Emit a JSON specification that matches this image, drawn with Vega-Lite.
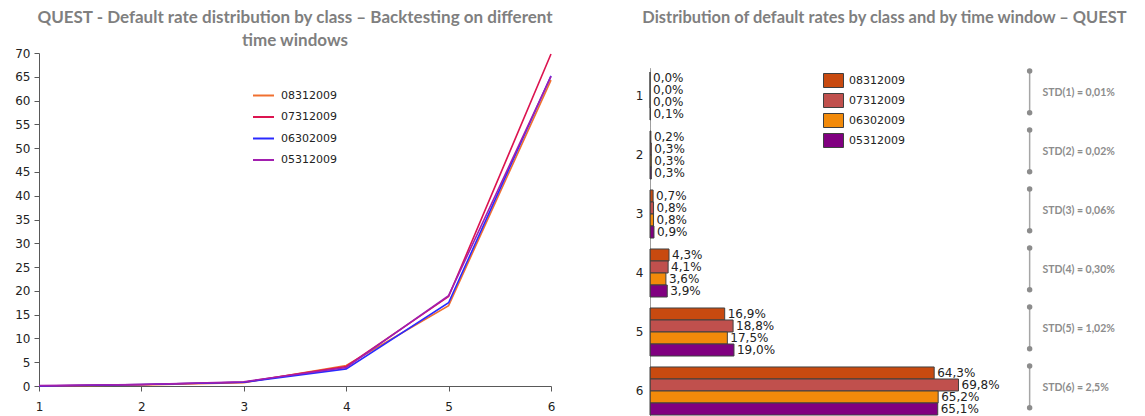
{
  "$schema": "https://vega.github.io/schema/vega-lite/v6.json",
  "background": "white",
  "padding": {"left": 14, "top": 9, "right": 0, "bottom": 0},
  "spacing": 80,
  "config": {
    "view": {"stroke": null},
    "font": "DejaVu Sans",
    "title": {"font": "Lato", "fontWeight": "bold", "fontSize": 17, "color": "#7F7F7F"},
    "axis": {
      "labelFont": "DejaVu Sans",
      "labelFontSize": 12,
      "labelColor": "#222222",
      "domainColor": "#595959",
      "tickColor": "#595959",
      "grid": false,
      "title": null
    },
    "legend": {"labelFont": "DejaVu Sans", "labelFontSize": 11, "labelColor": "#222222"}
  },
  "resolve": {"scale": {"color": "independent", "fill": "independent"}},
  "datasets": {
    "rates": [
      {"cls": 1, "series": "08312009", "rate": 0.0},
      {"cls": 2, "series": "08312009", "rate": 0.2},
      {"cls": 3, "series": "08312009", "rate": 0.7},
      {"cls": 4, "series": "08312009", "rate": 4.3},
      {"cls": 5, "series": "08312009", "rate": 16.9},
      {"cls": 6, "series": "08312009", "rate": 64.3},
      {"cls": 1, "series": "07312009", "rate": 0.0},
      {"cls": 2, "series": "07312009", "rate": 0.3},
      {"cls": 3, "series": "07312009", "rate": 0.8},
      {"cls": 4, "series": "07312009", "rate": 4.1},
      {"cls": 5, "series": "07312009", "rate": 18.8},
      {"cls": 6, "series": "07312009", "rate": 69.8},
      {"cls": 1, "series": "06302009", "rate": 0.0},
      {"cls": 2, "series": "06302009", "rate": 0.3},
      {"cls": 3, "series": "06302009", "rate": 0.8},
      {"cls": 4, "series": "06302009", "rate": 3.6},
      {"cls": 5, "series": "06302009", "rate": 17.5},
      {"cls": 6, "series": "06302009", "rate": 65.2},
      {"cls": 1, "series": "05312009", "rate": 0.1},
      {"cls": 2, "series": "05312009", "rate": 0.3},
      {"cls": 3, "series": "05312009", "rate": 0.9},
      {"cls": 4, "series": "05312009", "rate": 3.9},
      {"cls": 5, "series": "05312009", "rate": 19.0},
      {"cls": 6, "series": "05312009", "rate": 65.1}
    ],
    "std": [
      {"cls": 1, "label": "STD(1) = 0,01%"},
      {"cls": 2, "label": "STD(2) = 0,02%"},
      {"cls": 3, "label": "STD(3) = 0,06%"},
      {"cls": 4, "label": "STD(4) = 0,30%"},
      {"cls": 5, "label": "STD(5) = 1,02%"},
      {"cls": 6, "label": "STD(6) = 2,5%"}
    ]
  },
  "hconcat": [
    {
      "width": 512,
      "height": 333,
      "title": {
        "text": ["QUEST - Default rate distribution by class – Backtesting on different", "time windows"],
        "anchor": "middle",
        "offset": -3,
        "lineHeight": 23
      },
      "data": {"name": "rates"},
      "mark": {"type": "line", "strokeWidth": 1.6},
      "encoding": {
        "x": {
          "field": "cls",
          "type": "quantitative",
          "scale": {"domain": [1, 6], "nice": false, "zero": false},
          "axis": {"values": [1, 2, 3, 4, 5, 6], "format": "d", "labelPadding": 10, "tickSize": 5, "labelFlush": false}
        },
        "y": {
          "field": "rate",
          "type": "quantitative",
          "scale": {"domain": [0, 70], "nice": false},
          "axis": {"values": [0, 5, 10, 15, 20, 25, 30, 35, 40, 45, 50, 55, 60, 65, 70], "labelPadding": 4, "tickSize": 5}
        },
        "color": {
          "field": "series",
          "type": "nominal",
          "scale": {
            "domain": ["08312009", "07312009", "06302009", "05312009"],
            "range": ["#F07030", "#DC1450", "#2A2AFF", "#A21FAF"]
          },
          "legend": {
            "orient": "none",
            "legendX": 213,
            "legendY": 31,
            "title": null,
            "symbolType": "stroke",
            "symbolSize": 441,
            "symbolStrokeWidth": 2,
            "labelOffset": 6,
            "rowPadding": 4.5
          }
        }
      }
    },
    {
      "width": 495,
      "height": 364,
      "title": {
        "text": "Distribution of default rates by class and by time window – QUEST",
        "anchor": "start",
        "fontSize": 16.4,
        "dx": 7,
        "offset": 27
      },
      "layer": [
        {
          "data": {"name": "rates"},
          "mark": {"type": "bar", "stroke": "#404040", "strokeWidth": 1},
          "encoding": {
            "x": {"field": "rate", "type": "quantitative", "scale": {"domain": [0, 112], "nice": false}, "axis": null},
            "y": {
              "field": "cls",
              "type": "ordinal",
              "scale": {"paddingInner": 0.186, "paddingOuter": 0.178, "align": 0.905},
              "axis": {"ticks": false, "domain": false, "labelPadding": 7, "labelAngle": 0}
            },
            "yOffset": {"field": "series", "type": "nominal", "sort": ["08312009", "07312009", "06302009", "05312009"]},
            "fill": {
              "field": "series",
              "type": "nominal",
              "sort": ["08312009", "07312009", "06302009", "05312009"],
              "scale": {
                "domain": ["08312009", "07312009", "06302009", "05312009"],
                "range": ["#C84A10", "#C0504D", "#F28A0A", "#800080"]
              },
              "legend": {
                "orient": "none",
                "legendX": 173,
                "legendY": 17,
                "title": null,
                "symbolType": "M-1,-0.7L1,-0.7L1,0.7L-1,0.7Z",
                "symbolSize": 400,
                "symbolStrokeColor": "#404040",
                "symbolStrokeWidth": 1,
                "symbolOpacity": 1,
                "labelOffset": 5,
                "rowPadding": 0
              }
            }
          }
        },
        {
          "data": {"name": "std"},
          "mark": {"type": "rule", "color": "#404040", "strokeWidth": 1, "clip": true},
          "encoding": {
            "x": {"datum": 0, "type": "quantitative"},
            "y": {"field": "cls", "type": "ordinal", "bandPosition": -0.08},
            "y2": {"field": "cls", "bandPosition": 1.15}
          }
        },
        {
          "data": {"name": "rates"},
          "transform": [{"calculate": "replace(format(datum.rate, '.1f'), '.', ',') + '%'", "as": "label"}],
          "mark": {"type": "text", "align": "left", "baseline": "middle", "dx": 3, "fontSize": 12, "color": "#222222"},
          "encoding": {
            "x": {"field": "rate", "type": "quantitative"},
            "y": {"field": "cls", "type": "ordinal"},
            "yOffset": {"field": "series", "type": "nominal", "sort": ["08312009", "07312009", "06302009", "05312009"]},
            "text": {"field": "label"}
          }
        },
        {
          "data": {"name": "std"},
          "mark": {"type": "rule", "color": "#A6A6A6", "strokeWidth": 1.5},
          "encoding": {
            "x": {"datum": 85.9, "type": "quantitative"},
            "y": {"field": "cls", "type": "ordinal", "bandPosition": -0.02},
            "y2": {"field": "cls", "bandPosition": 0.85}
          }
        },
        {
          "data": {"name": "std"},
          "mark": {"type": "point", "filled": true, "size": 30, "color": "#8C8C8C", "opacity": 1},
          "encoding": {
            "x": {"datum": 85.9, "type": "quantitative"},
            "y": {"field": "cls", "type": "ordinal", "bandPosition": -0.02}
          }
        },
        {
          "data": {"name": "std"},
          "mark": {"type": "point", "filled": true, "size": 30, "color": "#8C8C8C", "opacity": 1},
          "encoding": {
            "x": {"datum": 85.9, "type": "quantitative"},
            "y": {"field": "cls", "type": "ordinal", "bandPosition": 0.85}
          }
        },
        {
          "data": {"name": "std"},
          "mark": {"type": "text", "align": "left", "baseline": "middle", "font": "Lato", "fontWeight": "bold", "fontSize": 10.5, "color": "#8C8C8C"},
          "encoding": {
            "x": {"datum": 88.8, "type": "quantitative"},
            "y": {"field": "cls", "type": "ordinal", "bandPosition": 0.44},
            "text": {"field": "label"}
          }
        }
      ]
    }
  ]
}
